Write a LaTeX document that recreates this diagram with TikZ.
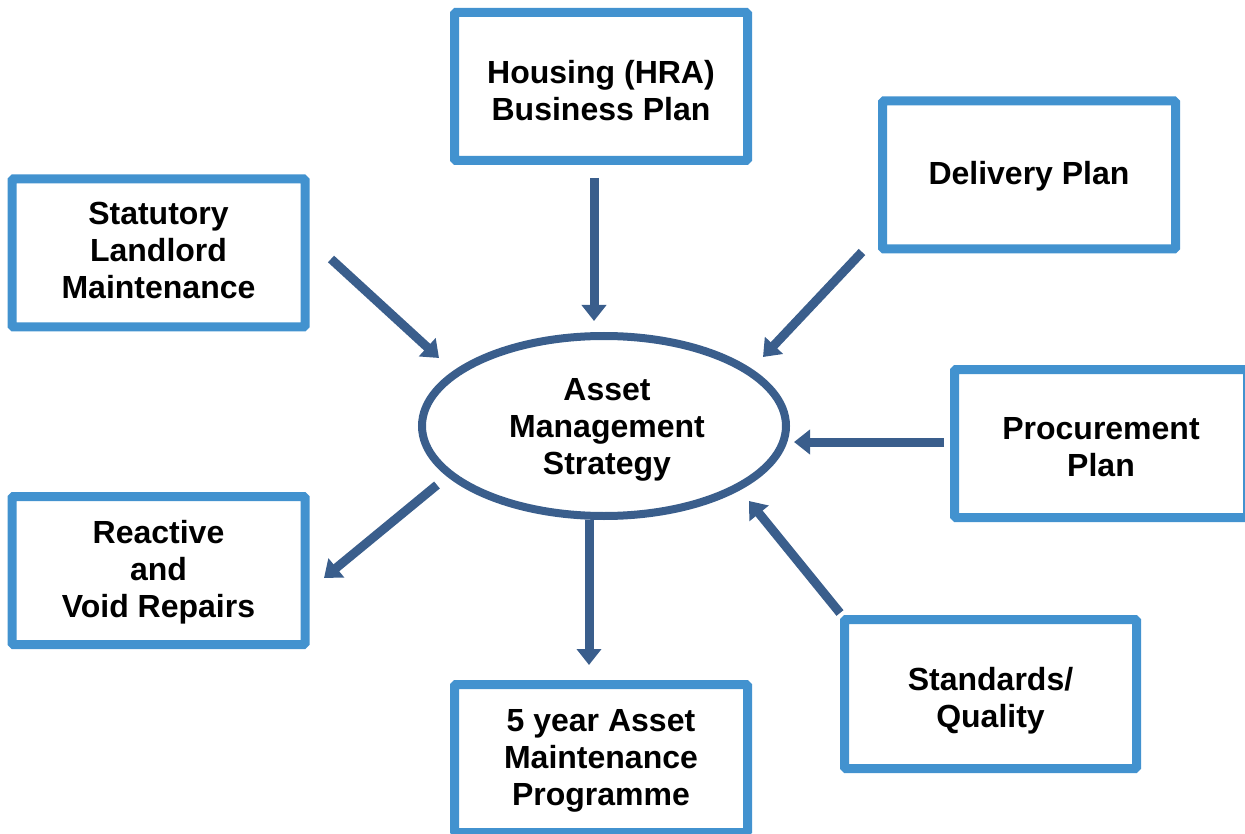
\documentclass[tikz,border=0pt]{standalone}
\usepackage{fontspec}
\setmainfont{Liberation Sans}
\usetikzlibrary{arrows.meta,shapes.geometric}
\definecolor{boxblue}{RGB}{66,146,207}
\definecolor{darkblue}{RGB}{58,94,140}
\begin{document}
\begin{tikzpicture}[x=1pt,y=-1pt,
  box/.style={draw=boxblue,line width=9pt,fill=white,rounded corners=1.5pt,
    minimum width=293pt,minimum height=148pt,inner sep=0pt},
  label/.style={inner sep=0pt,align=center,font=\fontsize{32}{37}\selectfont\bfseries},
  flow/.style={draw=darkblue,line width=9pt,-{Triangle[width=24pt,length=16pt]}}]
\useasboundingbox (0,0) rectangle (1245,834);
\node[box] (hra) at (601,86.5) {};
\node[box] (del) at (1029,175) {};
\node[box] (stat) at (158.5,253) {};
\node[box] (proc) at (1101,443.5) {};
\node[box] (reac) at (158.5,570.5) {};
\node[box,minimum width=292pt,minimum height=149pt] (std) at (990.5,694) {};
\node[box] (five) at (601,758.5) {};
\node[draw=darkblue,line width=8pt,ellipse,minimum width=364pt,minimum height=180pt,
  inner sep=0pt] (ams) at (604,426) {};
\node[label,yshift=-4pt] (thra) at (hra) {Housing (HRA)\\Business Plan};
\node[label,yshift=-1pt] (tdel) at (del) {Delivery Plan};
\node[label,yshift=3pt] (tstat) at (stat) {Statutory\\Landlord\\Maintenance};
\node[label,yshift=-4pt] (tproc) at (proc) {Procurement\\Plan};
\node[label,yshift=-1.5pt] (treac) at (reac) {Reactive\\and\\Void Repairs};
\node[label,yshift=-7pt] (tstd) at (std) {Standards/\\Quality};
\node[label,yshift=-2.5pt] (tfive) at (five) {5 year Asset\\Maintenance\\Programme};
\node[label,yshift=-3.5pt,xshift=3pt] (tams) at (ams) {Asset\\Management\\Strategy};
\coordinate (a1s) at (594,178); \coordinate (a1e) at (594,321);
\coordinate (a2s) at (862,252); \coordinate (a2e) at (763,357);
\coordinate (a3s) at (331,259); \coordinate (a3e) at (439,358);
\coordinate (a4s) at (944,442); \coordinate (a4e) at (794,442);
\coordinate (a5s) at (840,613); \coordinate (a5e) at (749,501);
\coordinate (a6s) at (437,485); \coordinate (a6e) at (324,578);
\coordinate (a7s) at (589,520); \coordinate (a7e) at (589,665);
\draw[flow] (a1s) -- (a1e);
\draw[flow] (a2s) -- (a2e);
\draw[flow] (a3s) -- (a3e);
\draw[flow] (a4s) -- (a4e);
\draw[flow] (a5s) -- (a5e);
\draw[flow] (a6s) -- (a6e);
\draw[flow] (a7s) -- (a7e);
\end{tikzpicture}
\end{document}
